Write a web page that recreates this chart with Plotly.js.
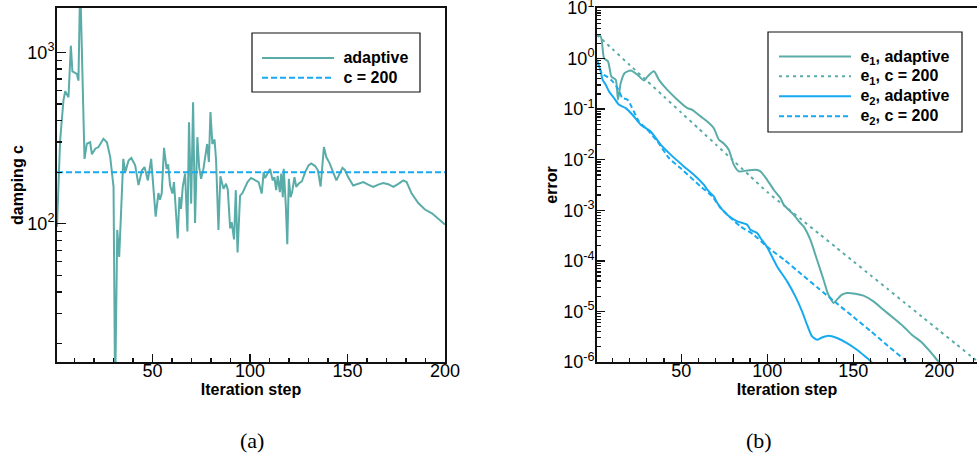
<!DOCTYPE html>
<html><head><meta charset="utf-8">
<script src="https://cdn.plot.ly/plotly-3.0.1.min.js"></script>
<style>html,body{margin:0;padding:0;background:#fff}#chart{width:977px;height:464px}</style>
</head><body><div id="chart"></div>
<script>
// ---------- (a) damping parameter ----------
const dampIter = [1,2.6,4.3,5.2,6.9,8.1,8.9,11.2,12.0,12.9,15.1,16.3,18.0,18.9,20.6,22.3,24.8,26.6,28.3,30.0,30.8,31.9,32.9,35.0,36.0,37.7,39.1,41.1,42.8,44.6,45.9,47.6,49.3,50.0,51.6,53.0,53.8,54.7,55.9,57.2,58.0,59.0,60.2,61.0,62.4,62.9,63.8,64.6,65.5,66.7,67.9,68.7,69.8,70.8,71.8,73.0,73.9,74.9,76.1,77.3,78.0,78.9,79.7,80.7,81.8,82.6,83.8,84.8,86.4,87.7,88.6,89.8,90.6,91.8,92.7,93.6,94.9,96.1,97.5,98.7,100.5,102.5,104.4,106,107,107.7,109,110.3,111.6,112.5,113.4,114.2,115.3,116,116.8,117.3,118.4,119.1,119.9,120.8,121.6,122.8,123.7,124.9,126.6,128.3,130,131.4,133.4,134.8,136.2,137.9,139.1,140.8,142.6,144.3,146,147.4,148.6,150.3,152.9,155.5,158.1,160.6,163.2,165.8,168.3,170.9,173.5,176.1,178.6,180.3,182.9,186.3,189.7,193.3,196.6,200];
const dampAdaptive = [96,306,523,593,547,1094,774,748,684,2600,239,293,299,254,274,280,313,299,245,164,10,92,64,239,200,234,242,219,168,205,214,179,239,187,110,151,138,150,277,209,222,167,150,175,90,82,143,122,164,196,90,391,131,512,101,320,214,183,209,267,292,229,448,292,310,234,92,189,160,171,158,94,102,81,157,68,146,151,164,175,185,179,175,150,200,185,197,209,179,187,157,190,153,196,143,209,125,76,183,143,153,187,164,171,177,200,219,225,217,205,165,280,245,226,200,179,196,212,206,187,167,171,175,169,164,169,173,170,164,171,179,175,150,132,121,115,107,99];
const dampConstIter = [1, 200];
const dampConst = [200, 200];

// ---------- (b) errors ----------
const e1AdaptIter = [1,3.2,5.1,7.4,9.4,11.9,13.2,14.8,17.1,20.6,24.5,28.3,30.3,34.1,37,41.9,47.7,53.5,56.4,61.2,65.1,68.9,71.8,74.7,77.6,80.5,83.4,88.3,93.1,96,99.9,103.7,107.6,109.5,115.3,119.2,121.1,125,128.9,132.7,135.1,136.6,138.5,140.5,143.4,146.3,151.1,155.9,161.7,167.5,173.3,179.1,184,189.8,194.6,199.4,201];
const e1Adapt = [2.9,2.75,1.02,0.88,0.44,0.38,0.154,0.33,0.52,0.58,0.48,0.37,0.44,0.56,0.38,0.24,0.154,0.105,0.097,0.072,0.057,0.042,0.025,0.021,0.0158,0.008,0.0059,0.0061,0.0063,0.0059,0.004,0.00255,0.00175,0.00129,8.2e-4,5.6e-4,4.8e-4,2.62e-4,1.05e-4,4.24e-5,2.31e-5,1.84e-5,1.47e-5,1.71e-5,2.14e-5,2.31e-5,2.24e-5,2.05e-5,1.58e-5,1.08e-5,7.41e-6,5.06e-6,3.47e-6,2.44e-6,1.62e-6,1.03e-6,9e-7];
const e1ConstIter = [1,10,20,30,40,50,60,70,80,90,100,110,120,130,140,150,160,170,180,190,200,210,220,222];
const e1Const = [2.95,1.54,0.746,0.362,0.176,0.0853,0.0414,0.0201,0.00975,0.00473,0.00229,0.00122,6.49e-4,3.45e-4,1.84e-4,9.77e-5,5.2e-5,2.77e-5,1.47e-5,7.83e-6,4.17e-6,2.22e-6,1.18e-6,1.05e-6];
const e2AdaptIter = [1,3.2,4.2,6.1,8,10.9,13.8,17.7,21.6,26.4,32.2,38,43.8,51.5,57.3,63.1,65.1,68.9,70.9,76.7,82.5,88.3,90.2,94.1,96,99.9,105.7,111.5,116.3,120.2,123.1,126,128.9,131.8,135.6,140.5,146.3,152.1,156.9,160.2,162];
const e2Adapt = [0.95,0.557,0.382,0.304,0.224,0.166,0.122,0.105,0.0776,0.0492,0.0363,0.0198,0.0126,0.00738,0.00506,0.00321,0.00255,0.00188,0.00139,8.18e-4,6.03e-4,5.19e-4,4.13e-4,3.56e-4,2.83e-4,1.86e-4,7.76e-5,3.93e-5,1.98e-5,1e-5,5.46e-6,3.21e-6,2.76e-6,3.06e-6,3.31e-6,2.98e-6,2.37e-6,1.75e-6,1.29e-6,1.03e-6,8.5e-7];
const e2ConstIter = [1,4,6.7,10,12.9,15.8,18.7,25.4,30,36.1,42.8,50,61.2,68,72.8,84.4,92.1,99.9,110,120,130,140,150,160,170,180,185];
const e2Const = [0.9,0.5,0.44,0.355,0.262,0.166,0.154,0.057,0.040,0.023,0.0108,0.0066,0.00296,0.00188,0.00111,4.8e-4,3.29e-4,1.9e-4,1.04e-4,5.4e-5,2.8e-5,1.48e-5,7.8e-6,4.1e-6,2.1e-6,1.1e-6,7.9e-7];

const legendA = ['adaptive', 'c = 200'];
const legendB = ['e<sub>1</sub>, adaptive', 'e<sub>1</sub>, c = 200', 'e<sub>2</sub>, adaptive', 'e<sub>2</sub>, c = 200'];
const leftTickVals = [100, 1000];
const leftTickText = ['10<sup>2</sup>', '10<sup>3</sup>'];
const rightExp = [-6,-5,-4,-3,-2,-1,0,1];
const rightTickVals = rightExp.map(p => Math.pow(10, p));
const rightTickText = rightExp.map(p => '10<sup>' + p + '</sup>');

const TEAL = '#5aaca8';
const BLUE = '#17aaf0';
const FONT = 'Liberation Sans, Arial, sans-serif';
const W = 977, T = 8, PH = 354;
const px2x = p => p / W;
const px2y = p => 1 - (p - T) / PH;
const big = s => '<span style="font-size:16px">\u00a0' + s + '</span>';

function minorLog(lo, hi) {
  const v = [];
  for (let p = lo; p <= hi; p++) for (let k = 2; k <= 9; k++) v.push(k * Math.pow(10, p));
  return v;
}

const traces = [
  {x: dampIter, y: dampAdaptive, xaxis: 'x', yaxis: 'y', mode: 'lines', name: big(legendA[0]),
   line: {color: TEAL, width: 2}, legend: 'legend'},
  {x: dampConstIter, y: dampConst, xaxis: 'x', yaxis: 'y', mode: 'lines', name: big(legendA[1]),
   line: {color: BLUE, width: 2, dash: '6px,3px'}, legend: 'legend'},
  {x: e1AdaptIter, y: e1Adapt, xaxis: 'x2', yaxis: 'y2', mode: 'lines', name: big(legendB[0]),
   line: {color: TEAL, width: 2, shape: 'spline', smoothing: 0.6}, legend: 'legend2'},
  {x: e1ConstIter, y: e1Const, xaxis: 'x2', yaxis: 'y2', mode: 'lines', name: big(legendB[1]),
   line: {color: TEAL, width: 2, dash: '3px,4px', shape: 'spline', smoothing: 0.6}, legend: 'legend2'},
  {x: e2AdaptIter, y: e2Adapt, xaxis: 'x2', yaxis: 'y2', mode: 'lines', name: big(legendB[2]),
   line: {color: BLUE, width: 2, shape: 'spline', smoothing: 0.6}, legend: 'legend2'},
  {x: e2ConstIter, y: e2Const, xaxis: 'x2', yaxis: 'y2', mode: 'lines', name: big(legendB[3]),
   line: {color: BLUE, width: 2, dash: '5px,3px', shape: 'spline', smoothing: 0.6}, legend: 'legend2'}
];

const axisCommon = {
  showline: true, linecolor: '#111', linewidth: 2, mirror: true,
  ticks: 'inside', tickcolor: '#111', tickwidth: 1.5,
  showgrid: false, zeroline: false, ticklabeloverflow: 'allow',
  tickfont: {family: FONT, size: 18, color: '#000'}
};
const titleFont = {family: FONT, size: 16, weight: 'bold', color: '#000'};
const legendFont = {family: FONT, size: 13, weight: 'bold', color: '#000'};

const layout = {
  width: 977, height: 464,
  margin: {l: 0, r: 0, t: 8, b: 102},
  paper_bgcolor: '#fff', plot_bgcolor: '#fff',
  showlegend: true,
  xaxis: Object.assign({}, axisCommon, {
    domain: [57/977, 445/977], range: [1, 200], tickmode: 'linear', tick0: 0, dtick: 50, ticklen: 8,
    ticklabelstandoff: -9,
    minor: {tickmode: 'linear', tick0: 0, dtick: 10, ticks: 'inside', ticklen: 4, tickcolor: '#111', tickwidth: 1.2},
    title: {text: 'Iteration step', font: titleFont, standoff: 3}
  }),
  yaxis: Object.assign({}, axisCommon, {
    type: 'log', range: [Math.log10(15.6), Math.log10(1815)], tickmode: 'array',
    tickvals: leftTickVals, ticktext: leftTickText, ticklen: 9, ticklabelstandoff: -3,
    minor: {tickmode: 'array', tickvals: minorLog(1, 2), ticks: 'inside', ticklen: 5, tickcolor: '#111', tickwidth: 1.2},
    title: {text: 'damping c', font: titleFont, standoff: 0}
  }),
  xaxis2: Object.assign({}, axisCommon, {
    anchor: 'y2', domain: [597/977, 1], range: [1, 221.9], tickmode: 'linear', tick0: 0, dtick: 50, ticklen: 8,
    ticklabelstandoff: -9,
    minor: {tickmode: 'linear', tick0: 0, dtick: 10, ticks: 'inside', ticklen: 4, tickcolor: '#111', tickwidth: 1.2},
    title: {text: 'Iteration step', font: titleFont, standoff: 3}
  }),
  yaxis2: Object.assign({}, axisCommon, {
    anchor: 'x2', type: 'log', range: [-6, 1], tickmode: 'array',
    tickvals: rightTickVals, ticktext: rightTickText, ticklen: 8, ticklabelstandoff: -3,
    minor: {tickmode: 'array', tickvals: minorLog(-6, 0), ticks: 'inside', ticklen: 4, tickcolor: '#111', tickwidth: 1.2},
    title: {text: 'error', font: titleFont, standoff: 2}
  }),
  legend: {
    x: px2x(257), y: px2y(43), xanchor: 'left', yanchor: 'top',
    bgcolor: 'rgba(0,0,0,0)', borderwidth: 0,
    font: legendFont, itemwidth: 72, tracegroupgap: 0
  },
  legend2: {
    x: px2x(774), y: px2y(41.5), xanchor: 'left', yanchor: 'top',
    bgcolor: 'rgba(0,0,0,0)', borderwidth: 0,
    font: legendFont, itemwidth: 72, tracegroupgap: 0
  },
  shapes: [
    {type: 'rect', xref: 'paper', yref: 'paper', layer: 'above',
     x0: px2x(252), x1: px2x(420), y0: px2y(92), y1: px2y(33),
     fillcolor: '#fff', line: {color: '#111', width: 1.2}},
    {type: 'rect', xref: 'paper', yref: 'paper', layer: 'above',
     x0: px2x(768), x1: px2x(962), y0: px2y(132), y1: px2y(32),
     fillcolor: '#fff', line: {color: '#111', width: 1.2}}
  ],
  annotations: [
    {xref: 'paper', yref: 'paper', x: px2x(238), y: px2y(440), yanchor: 'middle', text: '(a)', showarrow: false,
     font: {family: 'Liberation Serif, serif', size: 22, color: '#000'}},
    {xref: 'paper', yref: 'paper', x: px2x(774), y: px2y(440), yanchor: 'middle', text: '(b)', showarrow: false,
     font: {family: 'Liberation Serif, serif', size: 22, color: '#000'}}
  ]
};

Plotly.newPlot('chart', traces, layout, {staticPlot: true, displayModeBar: false});
</script>
</body></html>
